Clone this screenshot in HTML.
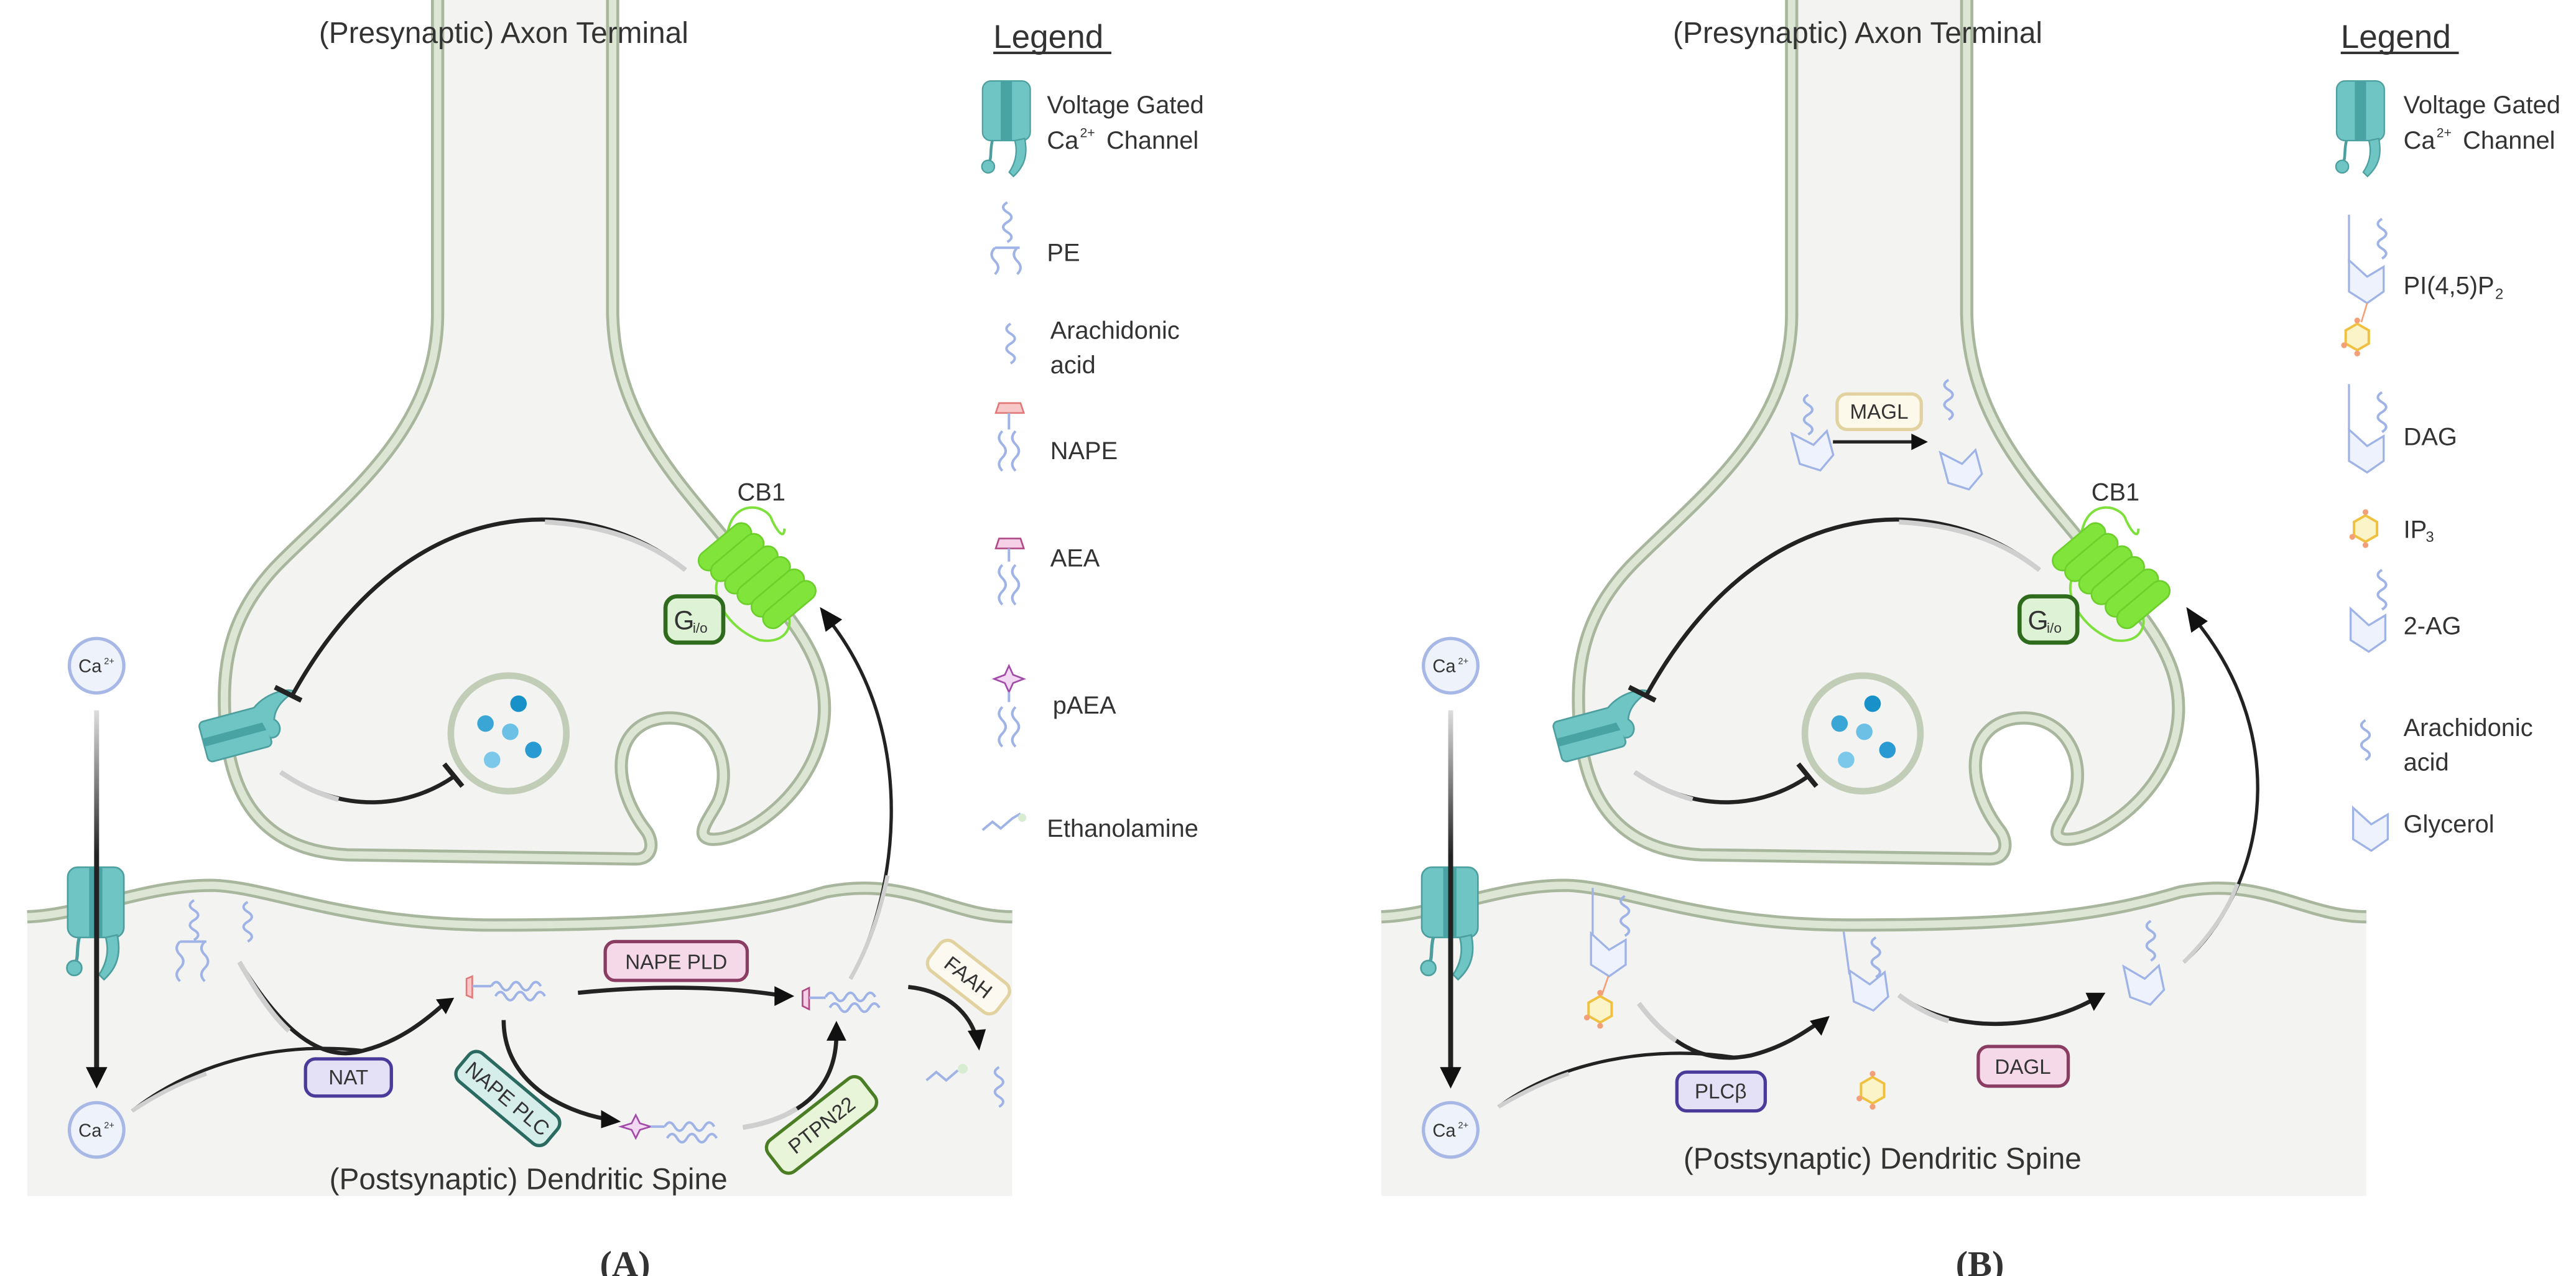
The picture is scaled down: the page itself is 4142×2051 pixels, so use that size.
<!DOCTYPE html>
<html><head><meta charset="utf-8"><style>
html,body{margin:0;padding:0;background:#fff;}
svg{display:block;}
text{font-family:"Liberation Sans",sans-serif;fill:#333;}
</style></head><body>
<svg width="4142" height="2051" viewBox="0 0 4142 2051" xmlns="http://www.w3.org/2000/svg">
<defs>
<linearGradient id="gv" gradientUnits="userSpaceOnUse" x1="0" y1="860" x2="0" y2="1300"><stop offset="0" stop-color="#ddd"/><stop offset="0.4" stop-color="#222"/></linearGradient>
<g id="chan">
<rect x="0" y="0" width="68" height="85" rx="12" fill="#6fc4c4" stroke="#4d9f9f" stroke-width="2"/>
<rect x="26" y="0" width="16" height="85" fill="#4aa3a3"/>
<path d="M14,85 C10,100 14,110 8,118" stroke="#4d9f9f" stroke-width="4" fill="none"/>
<circle cx="8" cy="122" r="9" fill="#6fc4c4" stroke="#4d9f9f" stroke-width="2"/>
<path d="M60,82 C66,110 56,125 44,136 L38,130 C48,115 50,100 46,85 Z" fill="#6fc4c4" stroke="#4d9f9f" stroke-width="2"/>
</g>
<g id="ca">
<circle r="33" fill="#eef2fb" stroke="#a8b8e6" stroke-width="4"/>
<text x="-22" y="8" font-size="22">Ca</text><text x="9" y="-2" font-size="11">2+</text>
</g>
<g id="hex">
<polygon points="0,-16 14,-8 14,8 0,16 -14,8 -14,-8" fill="#fbf4c8" stroke="#f0c040" stroke-width="3"/>
<circle cx="-16" cy="10" r="3.5" fill="#f3a07a"/><circle cx="0" cy="20" r="3.5" fill="#f3a07a"/><circle cx="0" cy="-20" r="3.5" fill="#f3a07a"/>
</g>
<g id="glyc">
<path d="M0,0 L0,38 L22,52 L42,38 L42,8 L22,20 Z" fill="#edf2fc" stroke="#9fb3e6" stroke-width="2.5"/>
</g>
<g id="wave"><path d="M0,0 q6,-10 12,0 t12,0 t12,0 t12,0 t12,0" fill="none" stroke="#9fb3e6" stroke-width="3"/></g>
<g id="vwave"><path d="M0,0 q-10,6 0,12 t0,12 t0,12 t0,12" fill="none" stroke="#9fb3e6" stroke-width="3"/></g>
<g id="common">
<path d="M530,-10 L530,380 C530,520 420,600 340,680 C280,740 270,800 272,860 C275,980 330,1030 420,1035 L770,1040 C792,1040 792,1018 782,1005 C740,950 740,880 800,870 C860,862 890,920 870,970 C860,990 840,1012 860,1016 C900,1020 990,960 998,870 C1004,800 960,750 900,680 C840,600 745,520 742,380 L742,-10" fill="#f3f4f1" stroke="#a8b69e" stroke-width="16"/>
<path d="M530,-10 L530,380 C530,520 420,600 340,680 C280,740 270,800 272,860 C275,980 330,1030 420,1035 L770,1040 C792,1040 792,1018 782,1005 C740,950 740,880 800,870 C860,862 890,920 870,970 C860,990 840,1012 860,1016 C900,1020 990,960 998,870 C1004,800 960,750 900,680 C840,600 745,520 742,380 L742,-10" fill="none" stroke="#dde6d5" stroke-width="9"/>
<path d="M33,1110 C100,1108 180,1070 260,1072 C330,1075 420,1120 600,1120 C800,1120 900,1110 1000,1080 C1100,1060 1150,1110 1226,1110 L1226,1448 L33,1448 Z" fill="#f3f4f1"/>
<path d="M33,1110 C100,1108 180,1070 260,1072 C330,1075 420,1120 600,1120 C800,1120 900,1110 1000,1080 C1100,1060 1150,1110 1226,1110" fill="none" stroke="#a8b69e" stroke-width="16"/>
<path d="M33,1110 C100,1108 180,1070 260,1072 C330,1075 420,1120 600,1120 C800,1120 900,1110 1000,1080 C1100,1060 1150,1110 1226,1110" fill="none" stroke="#dde6d5" stroke-width="9"/>
<use href="#chan" x="82" y="1050"/>
<path d="M117,860 L117,1300" stroke="url(#gv)" stroke-width="6"/>
<polygon points="104,1292 130,1292 117,1318" fill="#111"/>
<use href="#ca" x="117" y="806"/><use href="#ca" x="117" y="1368"/>
<circle cx="616" cy="888" r="70" fill="#f3f4f1" stroke="#c2cdb8" stroke-width="8"/>
<circle cx="628" cy="852" r="10" fill="#1890c8"/><circle cx="588" cy="876" r="10" fill="#3aa6d6"/><circle cx="618" cy="886" r="10" fill="#6cc0e6"/><circle cx="646" cy="908" r="10" fill="#2a9ad2"/><circle cx="596" cy="920" r="10" fill="#7cc8ea"/>
<g transform="translate(240,875) rotate(-15)">
<rect x="0" y="0" width="80" height="50" rx="6" fill="#6fc4c4" stroke="#4d9f9f" stroke-width="2"/>
<rect x="0" y="20" width="80" height="10" fill="#4aa3a3"/>
<path d="M70,0 C90,-15 120,-12 122,-6 C110,-2 95,5 90,20 C100,30 90,45 80,40" fill="#6fc4c4" stroke="#4d9f9f" stroke-width="2"/>
</g>
<path d="M830,690 C720,600 500,580 355,840" fill="none" stroke="#222" stroke-width="5"/>
<path d="M830,690 C780,650 720,635 660,632" fill="none" stroke="#cfcfcf" stroke-width="6"/>
<line x1="333" y1="832" x2="365" y2="848" stroke="#222" stroke-width="6"/>
<path d="M340,935 C420,990 500,975 550,940" fill="none" stroke="#222" stroke-width="5"/>
<path d="M340,935 C370,955 390,962 410,968" fill="none" stroke="#cfcfcf" stroke-width="6"/>
<line x1="538" y1="925" x2="560" y2="952" stroke="#222" stroke-width="6"/>
<text x="893" y="606" font-size="30">CB1</text>
<path d="M880,660 C880,600 930,610 935,630 C945,650 950,650 950,640" fill="none" stroke="#7ee03c" stroke-width="3"/>
<path d="M870,700 C860,720 880,760 920,775 C950,780 960,760 955,745" fill="none" stroke="#7ee03c" stroke-width="3"/>
<g fill="#80e43a" stroke="#6ccf2c" stroke-width="2">
<rect x="-38" y="-12" width="76" height="24" rx="12" transform="translate(878,662) rotate(-40)"/>
<rect x="-38" y="-12" width="76" height="24" rx="12" transform="translate(893,675) rotate(-40)"/>
<rect x="-38" y="-12" width="76" height="24" rx="12" transform="translate(910,690) rotate(-40)"/>
<rect x="-38" y="-12" width="76" height="24" rx="12" transform="translate(925,703) rotate(-40)"/>
<rect x="-38" y="-12" width="76" height="24" rx="12" transform="translate(942,718) rotate(-40)"/>
<rect x="-38" y="-12" width="76" height="24" rx="12" transform="translate(956,732) rotate(-40)"/>
</g>
<rect x="806" y="722" width="70" height="56" rx="14" fill="#def3d6" stroke="#2e6b1c" stroke-width="5"/>
<text x="816" y="762" font-size="32" fill="#222">G</text><text x="839" y="766" font-size="17">i/o</text>
</g>
</defs>

<g transform="scale(1.3276)">
<use href="#common"/>
<text x="610" y="52" font-size="36" text-anchor="middle">(Presynaptic) Axon Terminal</text>
<text x="1203" y="58" font-size="40">Legend</text><line x1="1203" y1="64" x2="1346" y2="64" stroke="#333" stroke-width="3"/>
<use href="#chan" transform="translate(1190,98) scale(0.85)"/>
<text x="1268" y="137" font-size="30">Voltage Gated</text><text x="1268" y="180" font-size="30">Ca</text><text x="1308" y="166" font-size="16">2+</text><text x="1340" y="180" font-size="30">Channel</text>
<use href="#vwave" x="1220" y="245"/><path d="M1205,300 L1235,300 M1205,300 q-8,8 0,16 t0,16 M1232,300 q-8,8 0,16 t0,16" stroke="#9fb3e6" stroke-width="3" fill="none"/>
<text x="1268" y="316" font-size="30">PE</text>
<use href="#vwave" x="1224" y="392"/>
<text x="1272" y="410" font-size="30">Arachidonic</text><text x="1272" y="452" font-size="30">acid</text>
<polygon points="1210,488 1236,488 1240,500 1206,500" fill="#f8c8c8" stroke="#e07a7a" stroke-width="2"/>
<path d="M1222,500 L1222,520 M1214,522 q-8,8 0,16 t0,16 t0,16 M1230,522 q-8,8 0,16 t0,16 t0,16" stroke="#9fb3e6" stroke-width="3" fill="none"/>
<text x="1272" y="556" font-size="30">NAPE</text>
<polygon points="1210,652 1236,652 1240,664 1206,664" fill="#f5d0e6" stroke="#b04a86" stroke-width="2"/>
<path d="M1222,664 L1222,680 M1214,684 q-8,8 0,16 t0,16 t0,16 M1230,684 q-8,8 0,16 t0,16 t0,16" stroke="#9fb3e6" stroke-width="3" fill="none"/>
<text x="1272" y="686" font-size="30">AEA</text>
<path d="M1222,806 L1227,817 L1240,822 L1227,827 L1222,838 L1217,827 L1204,822 L1217,817 Z" fill="#f3d8f3" stroke="#a24aa8" stroke-width="2"/>
<path d="M1222,838 L1222,850 M1214,856 q-8,8 0,16 t0,16 t0,16 M1230,856 q-8,8 0,16 t0,16 t0,16" stroke="#9fb3e6" stroke-width="3" fill="none"/>
<text x="1275" y="864" font-size="30">pAEA</text>
<path d="M1190,1005 l12,-10 l10,8 l14,-12 l10,-6" stroke="#9fb3e6" stroke-width="3" fill="none"/><circle cx="1238" cy="990" r="5" fill="#d7ecd0"/>
<text x="1268" y="1013" font-size="30">Ethanolamine</text>
<use href="#vwave" x="235" y="1090"/><use href="#vwave" x="300" y="1092"/>
<path d="M218,1140 L250,1140 M218,1140 q-8,8 0,16 t0,16 t0,16 M248,1140 q-8,8 0,16 t0,16 t0,16" stroke="#9fb3e6" stroke-width="3" fill="none"/>
<polygon points="565,1185 572,1182 572,1208 565,1205" fill="#f8c8c8" stroke="#e07a7a" stroke-width="2"/>
<line x1="572" y1="1194" x2="595" y2="1194" stroke="#9fb3e6" stroke-width="3"/><use href="#wave" x="595" y="1194"/><use href="#wave" x="600" y="1206"/>
<polygon points="972,1200 980,1196 980,1222 972,1218" fill="#f5d0e6" stroke="#b04a86" stroke-width="2"/>
<line x1="980" y1="1208" x2="1000" y2="1208" stroke="#9fb3e6" stroke-width="3"/><use href="#wave" x="1000" y="1207"/><use href="#wave" x="1005" y="1220"/>
<path d="M770,1350 L775,1360 L788,1364 L775,1368 L770,1378 L765,1368 L752,1364 L765,1360 Z" fill="#f3d8f3" stroke="#a24aa8" stroke-width="2"/>
<line x1="788" y1="1364" x2="805" y2="1364" stroke="#9fb3e6" stroke-width="3"/><use href="#wave" x="805" y="1364"/><use href="#wave" x="808" y="1378"/>
<path d="M1122,1308 l12,-10 l12,10 l14,-12" stroke="#9fb3e6" stroke-width="3" fill="none"/><circle cx="1166" cy="1294" r="6" fill="#d7ecd0"/>
<use href="#vwave" x="1210" y="1292"/>
<path d="M290,1165 C330,1230 380,1290 440,1272 C480,1262 510,1240 535,1218" fill="none" stroke="#222" stroke-width="5"/>
<path d="M290,1165 C310,1200 330,1230 350,1248" fill="none" stroke="#cfcfcf" stroke-width="6"/>
<path d="M160,1345 C230,1290 330,1260 440,1272" fill="none" stroke="#222" stroke-width="4"/>
<path d="M160,1345 C190,1325 220,1310 250,1300" fill="none" stroke="#cfcfcf" stroke-width="5"/>
<polygon points="550,1208 528,1210 540,1228" fill="#111"/>
<path d="M700,1202 C800,1192 880,1195 945,1205" fill="none" stroke="#222" stroke-width="5"/>
<polygon points="962,1206 938,1194 938,1218" fill="#111"/>
<path d="M610,1235 C610,1310 680,1345 735,1355" fill="none" stroke="#222" stroke-width="5"/>
<polygon points="752,1358 728,1344 728,1366" fill="#111"/>
<path d="M900,1365 C990,1350 1012,1300 1013,1255" fill="none" stroke="#222" stroke-width="5"/>
<path d="M900,1365 C930,1360 950,1352 965,1342" fill="none" stroke="#cfcfcf" stroke-width="6"/>
<polygon points="1013,1236 1001,1260 1025,1260" fill="#111"/>
<path d="M1100,1195 C1150,1200 1175,1230 1182,1255" fill="none" stroke="#222" stroke-width="5"/>
<polygon points="1186,1272 1172,1248 1194,1246" fill="#111"/>
<path d="M1030,1185 C1080,1100 1120,900 1005,752" fill="none" stroke="#222" stroke-width="4"/>
<path d="M1030,1185 C1050,1150 1065,1110 1075,1060" fill="none" stroke="#cfcfcf" stroke-width="5"/>
<polygon points="993,735 1000,765 1020,750" fill="#111"/>
<rect x="733" y="1140" width="172" height="47" rx="12" fill="#f6d9e8" stroke="#8a3c62" stroke-width="4"/><text x="819" y="1173" font-size="25" text-anchor="middle">NAPE PLD</text>
<rect x="370" y="1282" width="104" height="45" rx="12" fill="#e4e1f7" stroke="#4a3a9a" stroke-width="4"/><text x="422" y="1313" font-size="25" text-anchor="middle">NAT</text>
<g transform="translate(615,1330) rotate(40)"><rect x="-70" y="-22" width="140" height="44" rx="12" fill="#d6eeea" stroke="#2a6a60" stroke-width="4"/><text x="0" y="9" font-size="25" text-anchor="middle">NAPE PLC</text></g>
<g transform="translate(995,1362) rotate(-38)"><rect x="-72" y="-24" width="144" height="48" rx="12" fill="#e9f5d8" stroke="#4a7d24" stroke-width="4"/><text x="0" y="9" font-size="25" text-anchor="middle">PTPN22</text></g>
<g transform="translate(1173,1183) rotate(38)"><rect x="-52" y="-22" width="104" height="44" rx="12" fill="#fcfaf0" stroke="#e2d2a0" stroke-width="4"/><text x="0" y="9" font-size="25" text-anchor="middle">FAAH</text></g>
<text x="640" y="1440" font-size="36" text-anchor="middle">(Postsynaptic) Dendritic Spine</text>
<text x="757" y="1545" font-size="44" font-weight="bold" text-anchor="middle" style="font-family:'Liberation Serif',serif">(A)</text>
</g>

<g transform="translate(2071,0) scale(1.3276)">
<use href="#common" x="80"/>
<text x="690" y="52" font-size="36" text-anchor="middle">(Presynaptic) Axon Terminal</text>
<text x="1275" y="58" font-size="40">Legend</text><line x1="1275" y1="64" x2="1418" y2="64" stroke="#333" stroke-width="3"/>
<use href="#chan" transform="translate(1270,98) scale(0.85)"/>
<text x="1351" y="137" font-size="30">Voltage Gated</text><text x="1351" y="180" font-size="30">Ca</text><text x="1391" y="166" font-size="16">2+</text><text x="1423" y="180" font-size="30">Channel</text>
<line x1="1285" y1="260" x2="1285" y2="318" stroke="#9fb3e6" stroke-width="2.5"/><use href="#vwave" x="1325" y="265"/>
<use href="#glyc" x="1285" y="315"/><line x1="1307" y1="367" x2="1300" y2="390" stroke="#f3a07a" stroke-width="2"/><use href="#hex" x="1295" y="408"/>
<text x="1351" y="356" font-size="30">PI(4,5)P</text><text x="1462" y="362" font-size="18">2</text>
<line x1="1285" y1="465" x2="1285" y2="520" stroke="#9fb3e6" stroke-width="2.5"/><use href="#vwave" x="1325" y="475"/><use href="#glyc" x="1285" y="520"/>
<text x="1351" y="539" font-size="30">DAG</text>
<use href="#hex" x="1305" y="640"/><text x="1351" y="651" font-size="30">IP</text><text x="1378" y="656" font-size="18">3</text>
<use href="#vwave" x="1325" y="690"/><use href="#glyc" x="1287" y="737"/><text x="1351" y="768" font-size="30">2-AG</text>
<use href="#vwave" x="1305" y="872"/><text x="1351" y="891" font-size="30">Arachidonic</text><text x="1351" y="933" font-size="30">acid</text>
<use href="#glyc" x="1290" y="978"/><text x="1351" y="1008" font-size="30">Glycerol</text>
<use href="#vwave" x="630" y="478"/><use href="#glyc" transform="translate(610,525) rotate(-15)"/>
<use href="#vwave" x="800" y="460"/><use href="#glyc" transform="translate(790,548) rotate(-15)"/>
<rect x="665" y="477" width="102" height="43" rx="12" fill="#fcf8ea" stroke="#e2d2a0" stroke-width="4"/><text x="716" y="507" font-size="25" text-anchor="middle">MAGL</text>
<line x1="660" y1="535" x2="758" y2="535" stroke="#222" stroke-width="4"/><polygon points="775,535 755,525 755,545" fill="#111"/>
<line x1="369" y1="1075" x2="369" y2="1135" stroke="#9fb3e6" stroke-width="2.5"/><use href="#vwave" x="408" y="1085"/><use href="#glyc" x="367" y="1130"/>
<line x1="388" y1="1182" x2="380" y2="1205" stroke="#f3a07a" stroke-width="2"/><use href="#hex" x="378" y="1222"/>
<line x1="673" y1="1128" x2="680" y2="1180" stroke="#9fb3e6" stroke-width="2.5"/><use href="#vwave" x="712" y="1135"/><use href="#glyc" transform="translate(680,1175) rotate(-8)"/>
<use href="#vwave" x="1045" y="1115"/><use href="#glyc" transform="translate(1012,1170) rotate(-12)"/>
<use href="#hex" x="708" y="1320"/>
<path d="M425,1215 C460,1260 500,1290 560,1278 C600,1268 625,1250 640,1240" fill="none" stroke="#222" stroke-width="5"/>
<path d="M425,1215 C440,1235 455,1250 470,1260" fill="none" stroke="#cfcfcf" stroke-width="6"/>
<path d="M255,1340 C330,1285 440,1265 540,1280" fill="none" stroke="#222" stroke-width="4"/>
<path d="M255,1340 C280,1325 310,1310 340,1300" fill="none" stroke="#cfcfcf" stroke-width="5"/>
<polygon points="656,1230 632,1236 646,1254" fill="#111"/>
<path d="M740,1205 C800,1250 900,1250 972,1212" fill="none" stroke="#222" stroke-width="5"/>
<path d="M740,1205 C760,1220 780,1230 800,1236" fill="none" stroke="#cfcfcf" stroke-width="6"/>
<polygon points="990,1202 966,1202 976,1224" fill="#111"/>
<path d="M1085,1165 C1180,1080 1220,900 1100,752" fill="none" stroke="#222" stroke-width="4"/>
<path d="M1085,1165 C1110,1140 1135,1110 1150,1070" fill="none" stroke="#cfcfcf" stroke-width="5"/>
<polygon points="1088,735 1094,766 1114,752" fill="#111"/>
<rect x="471" y="1298" width="107" height="47" rx="12" fill="#e4e1f7" stroke="#4a3a9a" stroke-width="4"/><text x="524" y="1330" font-size="25" text-anchor="middle">PLCβ</text>
<rect x="836" y="1267" width="109" height="48" rx="12" fill="#f6d9e8" stroke="#8a3c62" stroke-width="4"/><text x="890" y="1300" font-size="25" text-anchor="middle">DAGL</text>
<text x="720" y="1415" font-size="36" text-anchor="middle">(Postsynaptic) Dendritic Spine</text>
<text x="838" y="1545" font-size="44" font-weight="bold" text-anchor="middle" style="font-family:'Liberation Serif',serif">(B)</text>
</g>
</svg>
</body></html>
